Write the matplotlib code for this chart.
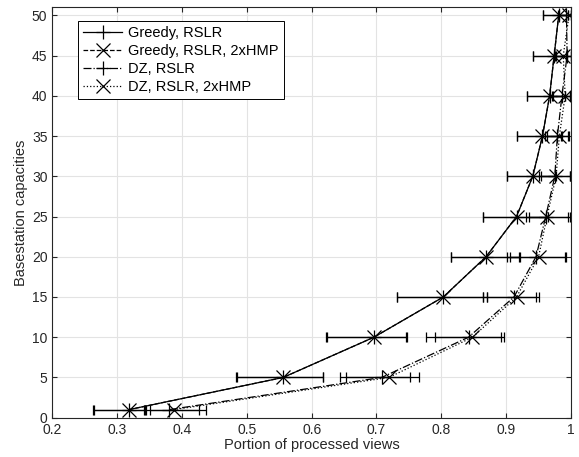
import matplotlib
matplotlib.use("Agg")
import matplotlib.pyplot as plt
from matplotlib.lines import Line2D
import numpy as np

plt.rcParams['font.family'] = ['Liberation Sans', 'DejaVu Sans']

capacities = [1, 5, 10, 15, 20, 25, 30, 35, 40, 45, 50]

# mean portion of processed views, with lower / upper error bounds
greedy_rslr = [0.318, 0.556, 0.696, 0.803, 0.869, 0.916, 0.941, 0.956, 0.967, 0.974, 0.981]
greedy_rslr_lo = [0.263, 0.484, 0.622, 0.731, 0.815, 0.864, 0.902, 0.916, 0.932, 0.942, 0.957]
greedy_rslr_hi = [0.342, 0.617, 0.746, 0.865, 0.920, 0.962, 0.975, 0.985, 0.990, 0.993, 0.995]

greedy_hmp = [0.318, 0.556, 0.696, 0.803, 0.869, 0.916, 0.941, 0.956, 0.967, 0.974, 0.981]
greedy_hmp_lo = [0.264, 0.485, 0.623, 0.731, 0.815, 0.864, 0.902, 0.916, 0.932, 0.942, 0.957]
greedy_hmp_hi = [0.343, 0.618, 0.747, 0.870, 0.921, 0.964, 0.977, 0.986, 0.991, 0.994, 0.996]

dz_rslr = [0.380, 0.708, 0.842, 0.912, 0.946, 0.961, 0.975, 0.979, 0.986, 0.994, 0.993]
dz_rslr_lo = [0.345, 0.643, 0.777, 0.865, 0.902, 0.930, 0.950, 0.960, 0.970, 0.975, 0.980]
dz_rslr_hi = [0.427, 0.752, 0.892, 0.946, 0.990, 0.996, 0.999, 0.996, 0.998, 1.000, 1.000]

dz_hmp = [0.387, 0.719, 0.848, 0.916, 0.950, 0.963, 0.977, 0.982, 0.991, 0.988, 0.997]
dz_hmp_lo = [0.350, 0.653, 0.790, 0.870, 0.906, 0.935, 0.953, 0.963, 0.972, 0.977, 0.982]
dz_hmp_hi = [0.437, 0.765, 0.896, 0.950, 0.992, 0.998, 0.999, 0.997, 0.999, 1.000, 1.000]

labels = ['Greedy, RSLR', 'Greedy, RSLR, 2xHMP', 'DZ, RSLR', 'DZ, RSLR, 2xHMP']

fig = plt.figure(figsize=(5.79, 4.57), dpi=100)
ax = fig.add_axes([0.0903, 0.0860, 0.8959, 0.8980])

series = [
    (greedy_rslr, greedy_rslr_lo, greedy_rslr_hi, '-', '+'),
    (greedy_hmp, greedy_hmp_lo, greedy_hmp_hi, '--', 'x'),
    (dz_rslr, dz_rslr_lo, dz_rslr_hi, '-.', '+'),
    (dz_hmp, dz_hmp_lo, dz_hmp_hi, ':', 'x'),
]

handles = []
for (m, lo, hi, ls, mk), lab in zip(series, labels):
    m = np.array(m)
    xerr = [m - np.array(lo), np.array(hi) - m]
    ax.errorbar(m, capacities, xerr=xerr, color='black', linestyle=ls, marker=mk,
                markersize=9.5, markeredgewidth=0.9, linewidth=0.9,
                elinewidth=0.9, capsize=3.5, capthick=0.9)
    handles.append(Line2D([], [], color='black', linestyle=ls, marker=mk,
                          markersize=9.5, markeredgewidth=0.9, linewidth=0.9))

ax.set_xlim(0.2, 1.0)
ax.set_ylim(0, 51)
ax.set_xticks(np.arange(0.2, 1.01, 0.1))
ax.set_xticklabels(['0.2', '0.3', '0.4', '0.5', '0.6', '0.7', '0.8', '0.9', '1'])
ax.set_yticks(np.arange(0, 51, 5))

ax.grid(True, color='#e3e3e3', linewidth=0.8)
ax.set_axisbelow(True)
for s in ax.spines.values():
    s.set_color('#262626')
    s.set_linewidth(0.8)
ax.tick_params(direction='in', top=True, right=True, length=3.5, width=0.8,
               colors='#262626', labelsize=10)

ax.set_xlabel('Portion of processed views', fontsize=10.5, color='#262626', labelpad=1)
ax.set_ylabel('Basestation capacities', fontsize=10.5, color='#262626', labelpad=3)

leg = ax.legend(handles, labels, loc='upper left', bbox_to_anchor=(0.0495, 0.967),
                borderaxespad=0, fontsize=10.5, fancybox=False, framealpha=1,
                edgecolor='black', handlelength=2.7, handletextpad=0.4,
                labelspacing=0.27, borderpad=0.35)
leg.get_frame().set_linewidth(0.7)

fig.savefig('out.png', dpi=100)
